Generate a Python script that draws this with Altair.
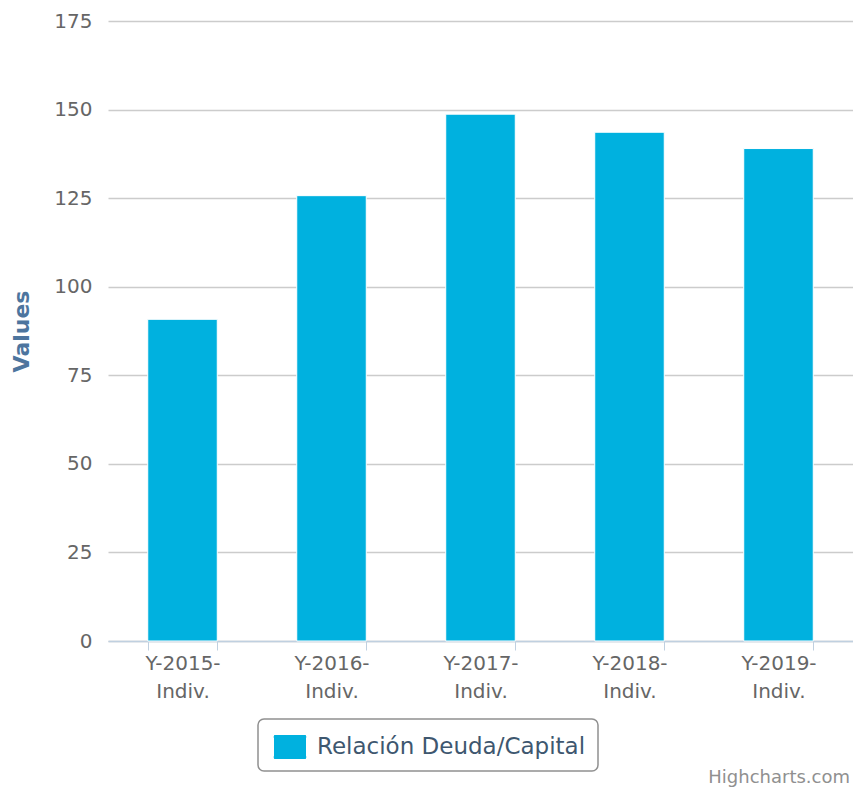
import altair as alt
import pandas as pd

categories = ["Y-2015-Indiv.", "Y-2016-Indiv.", "Y-2017-Indiv.", "Y-2018-Indiv.", "Y-2019-Indiv."]
values = [90.8, 125.7, 148.7, 143.6, 139.0]
series_name = "Relación Deuda/Capital"
y_ticks = [0, 25, 50, 75, 100, 125, 150, 175]
credit = ["Highcharts.com"]

df = pd.DataFrame({"cat": categories, "val": values, "series": [series_name] * len(categories)})
credit_df = pd.DataFrame({"t": credit})

FONT = "DejaVu Sans"
swatch = ("M -0.98 -0.75 H 0.98 A 0.2 0.2 0 0 1 1 -0.55 V 0.55 A 0.2 0.2 0 0 1 0.98 0.75 "
          "H -0.98 A 0.2 0.2 0 0 1 -1 0.55 V -0.55 A 0.2 0.2 0 0 1 -0.98 -0.75 Z")

bars = alt.Chart(df).mark_bar(stroke="#ffffff", strokeWidth=1).encode(
    x=alt.X("cat:N", sort=categories, title=None,
            scale=alt.Scale(paddingInner=0.5333, paddingOuter=0.2667),
            axis=alt.Axis(labelAngle=0, tickBand="extent", tickSize=9,
                          tickColor="#C0D0E0", domainColor="#C0D0E0", domainWidth=1.5,
                          labelFont=FONT, labelFontSize=20, labelColor="#666666",
                          labelLineHeight=28, labelPadding=3, labelBaseline="top",
                          labelExpr="[slice(datum.label, 0, 7), slice(datum.label, 7)]")),
    y=alt.Y("val:Q", title="Values",
            scale=alt.Scale(domain=[0, 175], nice=False),
            axis=alt.Axis(values=y_ticks, domain=False, ticks=False, grid=True,
                          gridColor="#CCCCCC", gridWidth=1.5,
                          labelFont=FONT, labelFontSize=20, labelColor="#666666",
                          labelPadding=16,
                          titleFont=FONT, titleFontSize=22, titleFontWeight="bold",
                          titleColor="#4D759E", titlePadding=20)),
    color=alt.Color("series:N", scale=alt.Scale(range=["#00B1DF"]), title=None,
                    legend=alt.Legend(orient="none", legendX=150, legendY=698,
                                      symbolType=swatch, symbolSize=1024,
                                      symbolStrokeWidth=0, symbolOffset=4,
                                      labelOffset=11, labelFont=FONT, labelFontSize=23,
                                      labelLimit=600,
                                      labelColor="#3E576F", padding=12,
                                      strokeColor="#909090",
                                      cornerRadius=6, fillColor="#ffffff")),
)

credit_text = alt.Chart(credit_df).mark_text(
    align="right", baseline="alphabetic", font=FONT, fontSize=18, color="#909090"
).encode(text="t:N", x=alt.value(742), y=alt.value(762))

chart = alt.layer(bars, credit_text).properties(
    width=745, height=620,
    autosize=alt.AutoSizeParams(type="none"),
    padding={"left": 100, "top": 13, "right": 0, "bottom": 147},
).configure_view(stroke=None).configure_legend(strokeWidth=1.5)

chart.save("out.html", embed_options={"renderer": "svg", "actions": False})
